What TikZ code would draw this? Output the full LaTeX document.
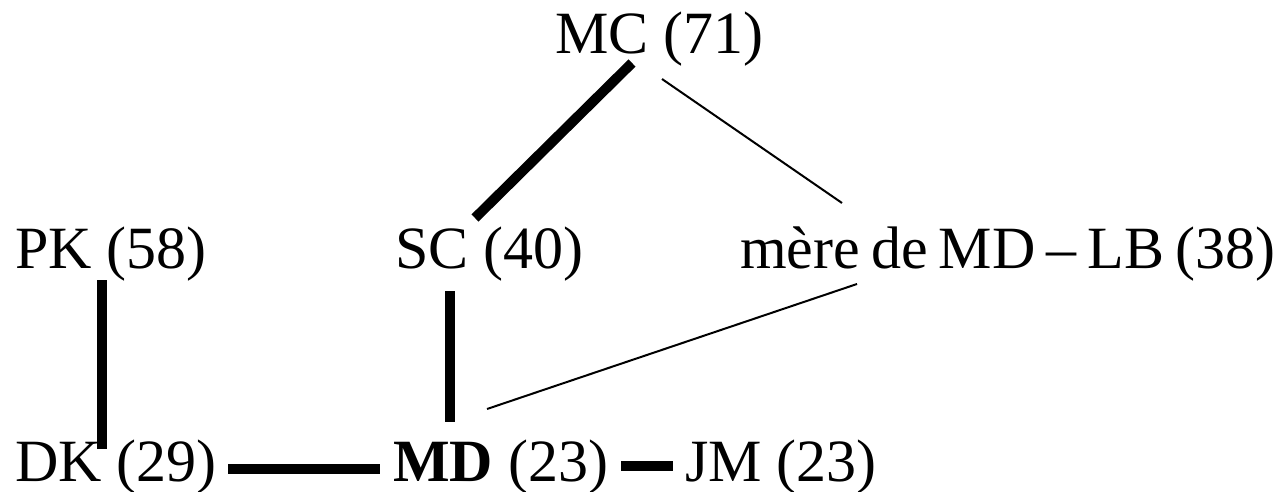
\documentclass[tikz,border=0pt]{standalone}
\usepackage{fontspec}
\setmainfont{Liberation Serif}
\usepackage{tikz}
\usetikzlibrary{calc}

\begin{document}
\begin{tikzpicture}[
  x=1pt, y=-1pt,
  pers/.style={inner sep=0pt, anchor=base west,
               font=\fontsize{60}{72}\selectfont},
  bond/.style={line width=10pt},
  weak/.style={line width=2pt}
]
\useasboundingbox (0,0) rectangle (1284,492);

% Row 1: MC
\node[pers] (mc)   at (555,54)  {MC (71)};

% Row 2: PK, SC, mother of MD
\node[pers] (pk)   at (15,268)  {PK (58)};
\node[pers] (sc)   at (395,268) {SC (40)};
\node[pers] (mere) at (740,268) {\spaceskip=11pt plus 2pt minus 2pt mère de MD – LB (38)};

% Row 3: DK, MD, JM
\node[pers] (dk)   at (15,481)  {DK (29)};
\node[pers] (md)   at (393,481) {\textbf{MD} (23)};
\node[pers] (jm)   at (685,481) {JM (23)};

% Strong ties
\draw[bond] ($(mc.base west)+(77,9)$)   -- ($(sc.base west)+(80,-50)$);
\draw[bond] ($(pk.base west)+(87,12)$)  -- ($(dk.base west)+(87,-32)$);
\draw[bond] ($(sc.base west)+(55,23)$)  -- ($(md.base west)+(57,-59)$);
\draw[bond] ($(dk.base west)+(213,-12)$) -- ($(md.base west)+(-13,-12)$);
\draw[bond] ($(md.base west)+(228,-15)$) -- ($(jm.base west)+(-12,-15)$);

% Weak ties
\draw[weak] ($(mc.base west)+(107,25)$)  -- ($(mere.base west)+(102,-65)$);
\draw[weak] ($(mere.base west)+(117,16)$) -- ($(md.base west)+(94,-72)$);

\end{tikzpicture}
\end{document}
